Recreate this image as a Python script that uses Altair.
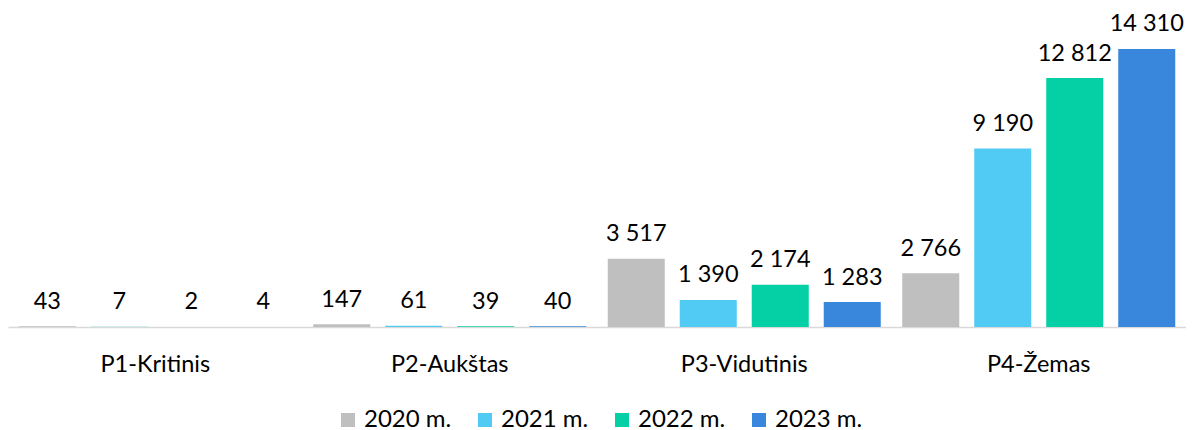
import altair as alt
import pandas as pd

categories = ["P1-Kritinis", "P2-Aukštas", "P3-Vidutinis", "P4-Žemas"]
years = ["2020 m.", "2021 m.", "2022 m.", "2023 m."]
values_2020 = [43, 147, 3517, 2766]
values_2021 = [7, 61, 1390, 9190]
values_2022 = [2, 39, 2174, 12812]
values_2023 = [4, 40, 1283, 14310]
colors = ["#BFBFBF", "#51CBF3", "#05CFA5", "#3887DC"]

series = dict(zip(years, [values_2020, values_2021, values_2022, values_2023]))
rows = []
for yr in years:
    for cat, v in zip(categories, series[yr]):
        rows.append({"category": cat, "year": yr, "value": v,
                     "label": f"{v:,}".replace(",", " ")})
df = pd.DataFrame(rows)

FONT = "Lato"
FS = 24

base = alt.Chart(df).encode(
    x=alt.X("category:N", sort=categories,
            scale=alt.Scale(paddingInner=0.073, paddingOuter=0.0365),
            axis=alt.Axis(title=None, labelAngle=0, ticks=False,
                          domainColor="#D9D9D9", domainWidth=1.5,
                          labelFontSize=FS - 0.5, labelFont=FONT, labelColor="#000000",
                          labelPadding=25)),
    xOffset=alt.XOffset("year:N", sort=years,
                        scale=alt.Scale(paddingInner=0.208, paddingOuter=0)),
    y=alt.Y("value:Q", scale=alt.Scale(domain=[0, 16420], nice=False), axis=None),
)

bars = base.mark_bar().encode(
    color=alt.Color("year:N", sort=years,
                    scale=alt.Scale(domain=years, range=colors),
                    legend=alt.Legend(title=None, orient="none", legendX=328, legendY=400,
                                      direction="horizontal", symbolType="square",
                                      symbolSize=196, symbolStrokeWidth=0,
                                      labelFontSize=FS, labelFont=FONT,
                                      labelColor="#000000", labelOffset=4,
                                      columnPadding=21))
)

text = base.mark_text(baseline="alphabetic", dy=-17.5, font=FONT, fontSize=23.5,
                      color="#000000").encode(text="label:N")

chart = (bars + text).properties(
    width=1178, height=319,
    padding={"left": 0, "top": 0, "right": 0, "bottom": 3},
).configure_view(stroke=None)

chart.save("out.html", embed_options={"renderer": "svg", "actions": False})
